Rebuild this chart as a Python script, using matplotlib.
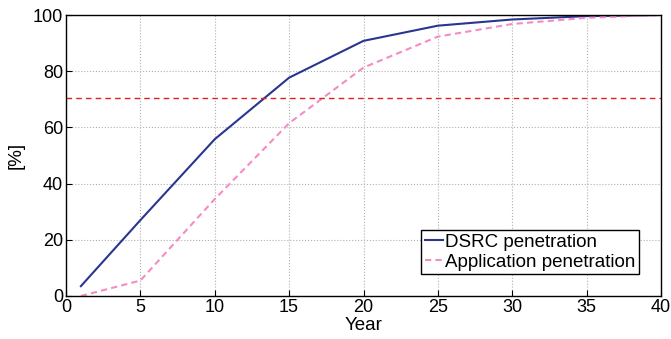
import matplotlib
matplotlib.use('Agg')
import matplotlib.pyplot as plt

# Data
years = [1, 5, 10, 15, 20, 25, 30, 35, 40]
dsrc = [3.5, 27, 55.8, 77.7, 90.8, 96.2, 98.4, 99.6, 100]
app = [0, 5.5, 34.5, 61.5, 81.3, 92.3, 96.8, 99.0, 100]
threshold = 70.6

plt.rcParams['font.family'] = ['Liberation Sans', 'DejaVu Sans']

fig = plt.figure(figsize=(6.71, 3.39), dpi=100)
ax = fig.add_axes([66 / 671, 1 - 296 / 339, 595 / 671, 281 / 339])

ax.plot(years, dsrc, color='#2a3590', lw=1.5, label='DSRC penetration')
ax.plot(years, app, color='#f48cc4', lw=1.5, ls=(0, (3, 2)), label='Application penetration')
ax.axhline(threshold, color='#e02020', lw=1.0, ls=(0, (4, 3)))

ax.set_xlim(0, 40)
ax.set_ylim(0, 100)
ax.set_xticks(range(0, 41, 5))
ax.set_yticks(range(0, 101, 20))
ax.grid(True, color='#b0b0b0', ls=':', lw=0.8)
ax.tick_params(direction='in', labelsize=13, length=4, pad=2)
for s in ax.spines.values():
    s.set_linewidth(1.0)

ax.set_xlabel('Year', fontsize=13.5, labelpad=1)
ax.set_ylabel('[%]', fontsize=13.5, labelpad=6)

leg = ax.legend(loc='lower right', fontsize=13.5, fancybox=False, framealpha=1,
                edgecolor='black', handlelength=1.0, handletextpad=0.1,
                borderpad=0.2, labelspacing=0.15, borderaxespad=1.15)
leg.get_frame().set_linewidth(1.0)

fig.savefig('out.png', dpi=100)
